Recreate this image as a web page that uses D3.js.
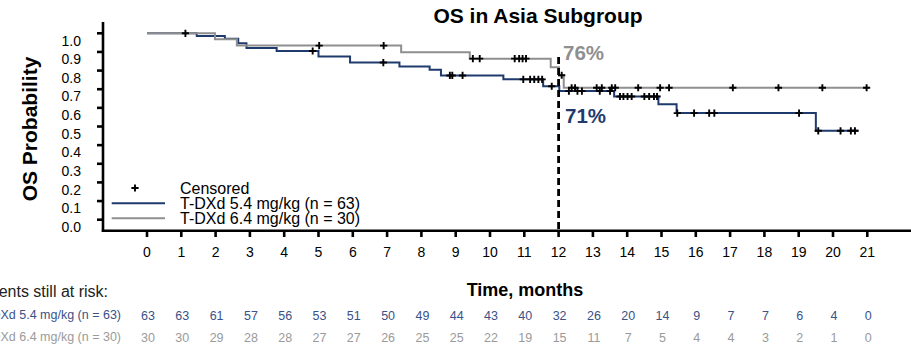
<!DOCTYPE html>
<html>
<head>
<meta charset="utf-8">
<script src="https://cdn.jsdelivr.net/npm/d3@7"></script>
<style>
  html, body { margin: 0; padding: 0; background: #fff; }
  svg { display: block; font-family: "Liberation Sans", Arial, Helvetica, sans-serif; }
</style>
</head>
<body>
<svg id="chart" width="911" height="346"></svg>
<script>
// ---------------- DATA ----------------
const months = d3.range(0, 22);
const yTicks = [0, 0.1, 0.2, 0.3, 0.4, 0.5, 0.6, 0.7, 0.8, 0.9, 1.0];

// KM step curve, T-DXd 5.4 mg/kg (n = 63)
const blueTimes = [0, 1.45, 2.27, 2.66, 2.9, 3.78, 5.0, 5.92, 7.36, 8.24, 8.57, 10.39, 11.55, 12.02, 13.62, 14.91, 15.44, 19.5, 20.74];
const blueSurv  = [1.0, 0.986, 0.971, 0.946, 0.921, 0.905, 0.875, 0.843, 0.822, 0.805, 0.774, 0.753, 0.716, 0.69, 0.661, 0.62, 0.572, 0.477, 0.477];
const blueCensor = [4.83, 6.89, 8.83, 8.9, 9.2, 10.97, 11.17, 11.29, 11.41, 11.52, 11.8, 12.3, 12.55, 12.68, 13.2, 13.5,
                    13.79, 13.89, 14.01, 14.13, 14.5, 14.64, 14.78, 14.87, 15.46, 15.95, 16.39, 16.54, 19.01, 19.57, 20.22, 20.52, 20.64];

// KM step curve, T-DXd 6.4 mg/kg (n = 30)
const grayTimes = [0, 1.98, 2.62, 7.41, 9.41, 11.77, 12.01, 12.15, 21.05];
const graySurv  = [1.0, 0.968, 0.934, 0.899, 0.864, 0.818, 0.775, 0.708, 0.708];
const grayCensor = [1.12, 5.02, 6.9, 9.5, 9.7, 10.72, 10.85, 10.95, 11.05, 12.09, 12.38, 12.48, 13.11, 13.26, 13.55, 13.65,
                    14.32, 14.96, 15.22, 17.08, 18.41, 19.69, 20.98];

// Patients at risk
const riskBlue = [63, 63, 61, 57, 56, 53, 51, 50, 49, 44, 43, 40, 32, 26, 20, 14, 9, 7, 7, 6, 4, 0];
const riskGray = [30, 30, 29, 28, 28, 27, 27, 26, 25, 25, 22, 19, 15, 11, 7, 5, 4, 4, 3, 2, 1, 0];

const landmark = 12;
const landmarkTop = 0.873;
const labelGray = "76%";
const labelBlue = "71%";

const seriesNames = ["T-DXd 5.4 mg/kg (n = 63)", "T-DXd 6.4 mg/kg (n = 30)"];

// ---------------- STYLE ----------------
const NAVY = "#1f3a6d";
const GRAY = "#8f8f8f";
const RISK_NAVY = "#3a5287";
const RISK_GRAY = "#9a9a9a";

const svg = d3.select("#chart");
const x = d3.scaleLinear().domain([0, 21]).range([147, 867.3]);
const y = d3.scaleLinear().domain([0, 1]).range([219.7, 33.3]);

const axisX0 = 103, axisY = 230.7;

// survival lookup
function survAt(times, surv, t) {
  let v = surv[0];
  for (let i = 0; i < times.length; i++) if (times[i] <= t) v = surv[i];
  return v;
}

// Title
svg.append("text").attr("x", 538).attr("y", 23).attr("text-anchor", "middle")
  .attr("font-size", 21).attr("font-weight", "bold").text("OS in Asia Subgroup");

// Y axis title
svg.append("text").attr("transform", "translate(37,129) rotate(-90)")
  .attr("text-anchor", "middle").attr("font-size", 21).attr("font-weight", "bold")
  .text("OS Probability");

// Axes lines
svg.append("line").attr("x1", axisX0).attr("x2", axisX0).attr("y1", 22).attr("y2", axisY + 1.2)
  .attr("stroke", "#000").attr("stroke-width", 2.6);
svg.append("line").attr("x1", axisX0 - 1.2).attr("x2", 911).attr("y1", axisY).attr("y2", axisY)
  .attr("stroke", "#000").attr("stroke-width", 2.6);

// Y ticks
const yt = svg.append("g");
yt.selectAll("line").data(yTicks).join("line")
  .attr("x1", 97).attr("x2", axisX0).attr("y1", d => y(d)).attr("y2", d => y(d))
  .attr("stroke", "#000").attr("stroke-width", 2.6);
yt.selectAll("text").data(yTicks).join("text")
  .attr("x", 81).attr("y", d => y(d) + 12.2).attr("text-anchor", "end")
  .attr("font-size", 14).text(d => d.toFixed(1));

// X ticks
const xt = svg.append("g");
xt.selectAll("line").data(months).join("line")
  .attr("x1", d => x(d)).attr("x2", d => x(d)).attr("y1", axisY).attr("y2", 237)
  .attr("stroke", "#000").attr("stroke-width", 2.6);
xt.selectAll("text").data(months).join("text")
  .attr("x", d => x(d)).attr("y", 257.3).attr("text-anchor", "middle")
  .attr("font-size", 14).text(d => d);

// X title
svg.append("text").attr("x", 525).attr("y", 296).attr("text-anchor", "middle")
  .attr("font-size", 18).attr("font-weight", "bold").text("Time, months");

// Step curves
const stepLine = d3.line().x(d => x(d[0])).y(d => y(d[1])).curve(d3.curveStepAfter);
svg.append("path").datum(d3.zip(blueTimes, blueSurv)).attr("d", stepLine)
  .attr("fill", "none").attr("stroke", NAVY).attr("stroke-width", 2);
svg.append("path").datum(d3.zip(grayTimes, graySurv)).attr("d", stepLine)
  .attr("fill", "none").attr("stroke", GRAY).attr("stroke-width", 2);

// Landmark dashed line
svg.append("line").attr("x1", x(landmark)).attr("x2", x(landmark))
  .attr("y1", y(landmarkTop)).attr("y2", axisY)
  .attr("stroke", "#000").attr("stroke-width", 2.8).attr("stroke-dasharray", "7,4");

// Censor marks
function plus(g, cx, cy) {
  const s = 3.6;
  g.append("path").attr("d", `M${cx - s},${cy}H${cx + s}M${cx},${cy - s}V${cy + s}`)
    .attr("stroke", "#000").attr("stroke-width", 1.9).attr("fill", "none");
}
const cg = svg.append("g");
blueCensor.forEach(t => plus(cg, x(t), y(survAt(blueTimes, blueSurv, t))));
grayCensor.forEach(t => plus(cg, x(t), y(survAt(grayTimes, graySurv, t))));

// Landmark labels
svg.append("text").attr("x", 563).attr("y", 60).attr("font-size", 20.5)
  .attr("font-weight", "bold").attr("fill", GRAY).text(labelGray);
svg.append("text").attr("x", 565).attr("y", 122.7).attr("font-size", 20.5)
  .attr("font-weight", "bold").attr("fill", NAVY).text(labelBlue);

// Legend
plus(svg, 135, 188);
svg.append("text").attr("x", 180).attr("y", 194).attr("font-size", 16).text("Censored");
svg.append("line").attr("x1", 111.7).attr("x2", 165).attr("y1", 203.3).attr("y2", 203.3)
  .attr("stroke", NAVY).attr("stroke-width", 2);
svg.append("text").attr("x", 180).attr("y", 209).attr("font-size", 16).text(seriesNames[0]);
svg.append("line").attr("x1", 111.7).attr("x2", 165).attr("y1", 218.3).attr("y2", 218.3)
  .attr("stroke", GRAY).attr("stroke-width", 2);
svg.append("text").attr("x", 180).attr("y", 224).attr("font-size", 16).text(seriesNames[1]);

// Risk table
svg.append("text").attr("x", 108).attr("y", 296.7).attr("text-anchor", "end")
  .attr("font-size", 16).attr("fill", "#222").text("Patients still at risk:");
svg.append("text").attr("x", 121).attr("y", 319).attr("text-anchor", "end")
  .attr("font-size", 12.5).attr("fill", RISK_NAVY).text(seriesNames[0]);
svg.append("text").attr("x", 121).attr("y", 340.5).attr("text-anchor", "end")
  .attr("font-size", 12.5).attr("fill", RISK_GRAY).text(seriesNames[1]);

svg.append("g").selectAll("text").data(riskBlue).join("text")
  .attr("x", (d, i) => x(months[i]) + 1).attr("y", 320).attr("text-anchor", "middle")
  .attr("font-size", 12.5).attr("fill", RISK_NAVY).text(d => d);
svg.append("g").selectAll("text").data(riskGray).join("text")
  .attr("x", (d, i) => x(months[i]) + 1).attr("y", 341.5).attr("text-anchor", "middle")
  .attr("font-size", 12.5).attr("fill", RISK_GRAY).text(d => d);
</script>
</body>
</html>
